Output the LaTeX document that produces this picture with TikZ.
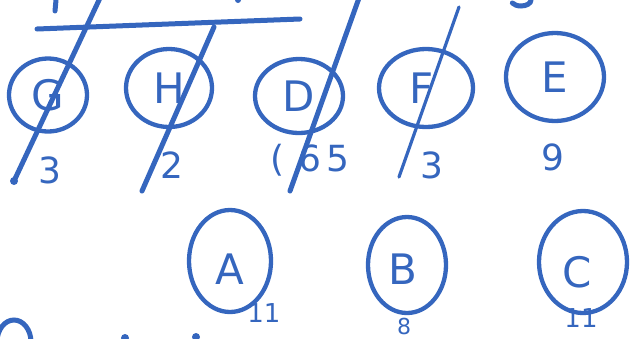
\documentclass[tikz,border=0pt]{standalone}
\usepackage{fontspec}
\setmainfont{DejaVu Sans}
\usetikzlibrary{shapes.geometric}
\definecolor{ink}{HTML}{3566BE}
\tikzset{
  bubble/.style={draw=ink, ellipse, line width=4.3pt, inner sep=0pt},
  letter/.style={text=ink, font=\fontsize{42}{42}\selectfont, inner sep=0pt},
  weight/.style={text=ink, font=\fontsize{36}{36}\selectfont, inner sep=0pt},
  small/.style={text=ink, font=\fontsize{26}{26}\selectfont, inner sep=0pt},
  pen/.style={draw=ink, line width=5pt, line cap=round},
  thinpen/.style={draw=ink, line width=3.2pt, line cap=round}
}
\begin{document}
\begin{tikzpicture}[x=1pt,y=-1pt]
\useasboundingbox (0,0) rectangle (631,338);
\clip (0,0) rectangle (631,338);
% circles
\node[bubble, minimum width=78pt, minimum height=73pt] (G) at (48,95) {};
\node[bubble, minimum width=86pt, minimum height=78pt] (H) at (169,88) {};
\node[bubble, minimum width=88pt, minimum height=74pt] (D) at (299,96) {};
\node[bubble, minimum width=94pt, minimum height=78pt] (F) at (426,88) {};
\node[bubble, minimum width=98pt, minimum height=88pt] (E) at (555,77) {};
\node[bubble, minimum width=82pt, minimum height=102pt] (A) at (230,261) {};
\node[bubble, minimum width=78pt, minimum height=96pt] (B) at (407,265) {};
\node[bubble, minimum width=88pt, minimum height=102pt] (C) at (583,262) {};
% letters
\node[letter] (tG) at (G) {G};
\node[letter] (tH) at (H) {H};
\node[letter] (tD) at (D) {D};
\node[letter] (tF) at ([xshift=-4pt]F) {F};
\node[letter] (tE) at (E) {E};
\node[letter] (tA) at ([yshift=-8pt]A) {A};
\node[letter] (tB) at ([xshift=-4pt,yshift=-4pt]B) {B};
\node[letter] (tC) at ([xshift=-6pt,yshift=-10pt]C) {C};
% weights
\node[weight] (wG) at (50,170) {3};
\node[weight] (wH) at (172,165) {2};
\node[weight] (wD) at (310,160) {(\hspace{14pt}6\hspace{6pt}5};
\node[weight] (wF) at (432,165) {3};
\node[weight] (wE) at (553,157) {9};
\node[small] (wA) at (264,313) {11};
\node[small, font=\fontsize{22}{22}\selectfont] (wB) at (404,326) {8};
\node[small] (wC) at (581,318) {11};
% horizontal bar
\coordinate (barL) at (37,29);
\coordinate (barR) at (300,19);
\draw[pen] (barL) -- (barR);
% strike lines
\coordinate (gB) at (14,181);
\coordinate (gT) at (100,-2);
\draw[pen] (gB) -- (gT);
\fill[ink] (gB) circle (4pt);
\coordinate (hB) at (142,191);
\coordinate (hT) at (214,27);
\draw[pen] (hB) -- (hT);
\coordinate (dB) at (290,191);
\coordinate (dT) at (359,-2);
\draw[pen] (dB) -- (dT);
\coordinate (fB) at (399,177);
\coordinate (fT) at (459,7);
\draw[thinpen] (fB) -- (fT);
% fragments at the edges
\coordinate (m1a) at (56,0);
\coordinate (m1b) at (55,11);
\draw[pen] (m1a) -- (m1b);
\coordinate (m2) at (238,0);
\fill[ink] (m2) circle (3pt);
\coordinate (m3a) at (531,0);
\draw[pen] (m3a) arc[start angle=0, end angle=-150, x radius=10pt, y radius=6pt];
\coordinate (m4) at (-3,342);
\draw[pen] (m4) arc[start angle=180, end angle=0, x radius=17pt, y radius=22pt];
\fill[ink] (125,338) circle (4pt);
\fill[ink] (196,337) circle (4pt);
\end{tikzpicture}
\end{document}
